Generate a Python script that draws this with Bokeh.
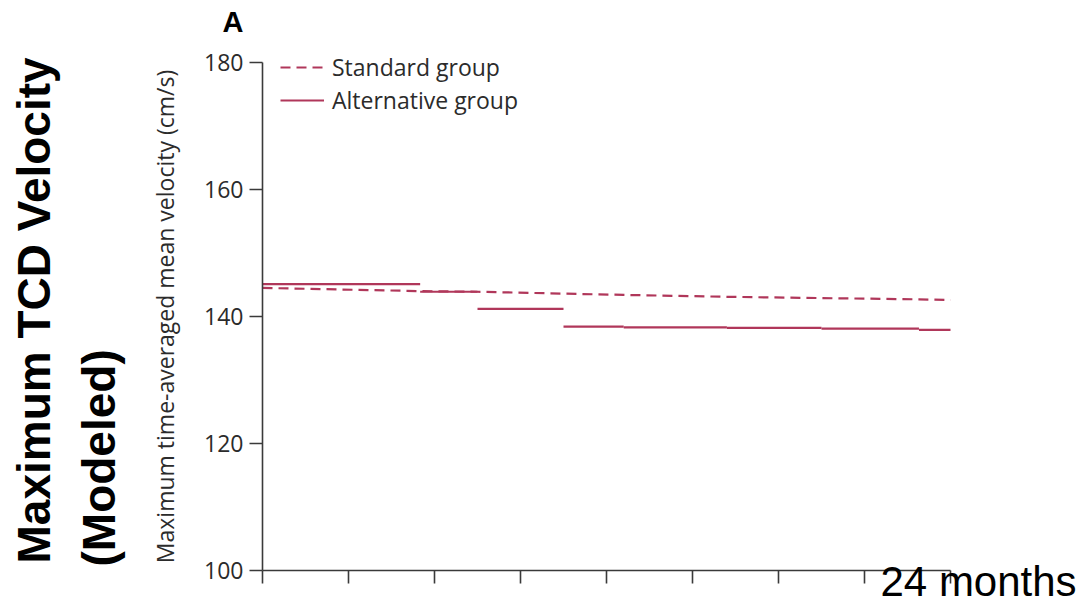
import math
from bokeh.plotting import figure
from bokeh.models import Range1d, FixedTicker, Label, Legend, LegendItem, ColumnDataSource
from bokeh.embed import file_html
from bokeh.resources import INLINE

# ---- data ----
std_months = [0, 5.5, 7.5, 10.5, 12.6, 16.2, 19.5, 22.9, 24]
std_velocity = [144.5, 144.0, 143.9, 143.6, 143.4, 143.1, 142.9, 142.7, 142.6]

alt_start = [0, 5.5, 7.5, 10.5, 12.6, 16.2, 19.5, 22.9]
alt_end = [5.5, 7.5, 10.5, 12.6, 16.2, 19.5, 22.9, 24]
alt_velocity = [145.1, 143.9, 141.2, 138.4, 138.3, 138.2, 138.1, 137.9]

y_ticks = [100, 120, 140, 160, 180]
x_ticks = [0, 3, 6, 9, 12, 15, 18, 21, 24]
series_names = ["Standard group", "Alternative group"]

LINE = "#B0375A"
AXIS = "#3a3a3a"
TEXT = "#2b2b2b"

# ---- layout: the frame fills the whole canvas, axes are fixed inside it ----
W, H = 1089, 605
X0_PX, X1_PX = 262, 950      # pixel columns of month 0 and month 24
Y0_PX, Y1_PX = 570, 62       # pixel rows of 100 and 180
ppx = (X1_PX - X0_PX) / (x_ticks[-1] - x_ticks[0])
ppy = (Y0_PX - Y1_PX) / (y_ticks[-1] - y_ticks[0])
x_range = Range1d(x_ticks[0] - X0_PX / ppx, x_ticks[-1] + (W - X1_PX) / ppx)
y_range = Range1d(y_ticks[0] - (H - Y0_PX) / ppy, y_ticks[-1] + Y1_PX / ppy)

p = figure(width=W, height=H, x_range=x_range, y_range=y_range,
           output_backend="svg", toolbar_location=None,
           min_border_left=0, min_border_right=0,
           min_border_top=0, min_border_bottom=0)
p.grid.visible = False
p.outline_line_color = None
p.background_fill_color = "white"
p.border_fill_color = "white"

# data marks
std_src = ColumnDataSource(dict(x=std_months, y=std_velocity))
alt_src = ColumnDataSource(dict(x0=alt_start, x1=alt_end, y=alt_velocity))
r_std = p.line("x", "y", source=std_src, line_color=LINE, line_width=2.2,
               line_dash="10 6")
r_alt = p.segment(x0="x0", y0="y", x1="x1", y1="y", source=alt_src,
                  line_color=LINE, line_width=2.2)

legend = Legend(items=[LegendItem(label=series_names[0], renderers=[r_std]),
                       LegendItem(label=series_names[1], renderers=[r_alt])],
                location=(280, H - 116), padding=0, margin=0, spacing=1,
                glyph_width=44, glyph_height=26, label_height=26,
                label_standoff=8, border_line_alpha=0, background_fill_alpha=0,
                label_text_font="Open Sans", label_text_font_size="23px",
                label_text_color=TEXT)
p.add_layout(legend)

# axes (fixed inside the frame)
for ax in (p.xaxis, p.yaxis):
    ax.axis_line_color = AXIS
    ax.axis_line_width = 1.6
    ax.major_tick_line_color = AXIS
    ax.major_tick_line_width = 1.6
    ax.major_tick_out = 13
    ax.major_tick_in = 0
    ax.minor_tick_line_color = None

p.yaxis.fixed_location = x_ticks[0]
p.yaxis.bounds = (y_ticks[0], y_ticks[-1])
p.yaxis.ticker = FixedTicker(ticks=y_ticks)
p.yaxis.major_label_text_font = "Open Sans"
p.yaxis.major_label_text_font_size = "23px"
p.yaxis.major_label_text_color = TEXT
p.yaxis.major_label_standoff = 6
p.yaxis.axis_label = "Maximum time-averaged mean velocity (cm/s)"
p.yaxis.axis_label_text_font = "Open Sans"
p.yaxis.axis_label_text_font_size = "23px"
p.yaxis.axis_label_text_font_style = "normal"
p.yaxis.axis_label_text_color = TEXT
p.yaxis.axis_label_standoff = 20

p.xaxis.fixed_location = y_ticks[0]
p.xaxis.bounds = (x_ticks[0], x_ticks[-1])
p.xaxis.ticker = FixedTicker(ticks=x_ticks)
p.xaxis.major_label_overrides = {t: "" for t in x_ticks}
p.xaxis.major_label_standoff = 0


def lab(text, x, y, size, bold=False, angle=0.0, font="Liberation Sans", color="black"):
    # x, y: pixel anchor (from top-left) of the text start
    p.add_layout(Label(x=x, y=H - y, x_units="screen", y_units="screen",
                       text=text, angle=angle, text_align="left",
                       text_baseline="alphabetic", text_font=font,
                       text_font_style="bold" if bold else "normal",
                       text_font_size=size, text_color=color))


lab("Maximum TCD Velocity", 33, 563, "46px", bold=True, angle=math.pi / 2)
lab("(Modeled)", 98, 566, "46px", bold=True, angle=math.pi / 2)
lab("A", 222, 21, "29px", bold=True)
lab("24 months", 880, 581, "42px")

open("out.html", "w").write(file_html(p, INLINE))
